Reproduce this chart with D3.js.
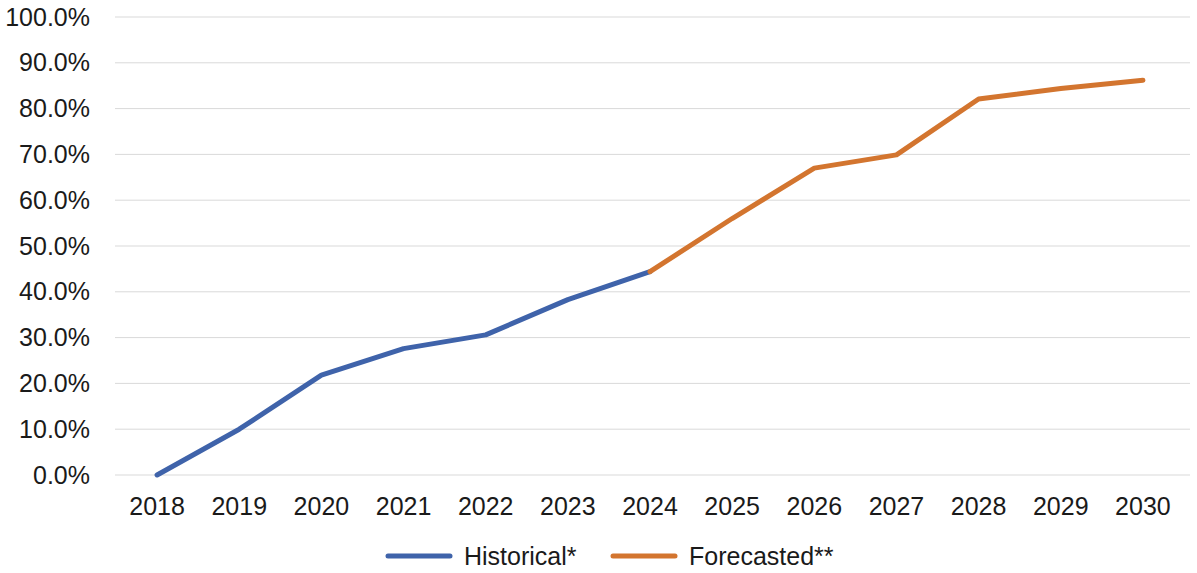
<!DOCTYPE html>
<html>
<head>
<meta charset="utf-8">
<script src="https://cdn.jsdelivr.net/npm/d3@7"></script>
<style>
  body { margin: 0; background: #fff; }
  svg text { font-family: "Liberation Sans", Arial, sans-serif; fill: #1a1a1a; }
</style>
</head>
<body>
<div id="chart"></div>
<script>
// years and values
var years = ["2018","2019","2020","2021","2022","2023","2024","2025","2026","2027","2028","2029","2030"];
var historical = [0.0, 10.0, 21.8, 27.6, 30.6, 38.3, 44.4];
var forecasted = [44.4, 56.0, 67.0, 69.9, 82.1, 84.4, 86.2];
var yTicks = [0, 10, 20, 30, 40, 50, 60, 70, 80, 90, 100];
var seriesNames = ["Historical*", "Forecasted**"];
var seriesColors = ["#3f63aa", "#d3752f"];

var w = 1197, h = 573;
var svg = d3.select("#chart").append("svg")
    .attr("width", w)
    .attr("height", h);

var x = d3.scaleBand().domain(years).range([116, 1184]);
var y = d3.scaleLinear().domain([0, 100]).range([475, 17]);

// gridlines
svg.append("g")
    .selectAll("line")
    .data(yTicks)
    .enter()
    .append("line")
    .attr("x1", 115)
    .attr("x2", 1190)
    .attr("y1", function(d) { return y(d); })
    .attr("y2", function(d) { return y(d); })
    .attr("stroke", "#d9d9d9")
    .attr("stroke-width", 1);

// y axis labels
var yAxis = d3.axisLeft(y).tickValues(yTicks).tickSize(0).tickPadding(0)
    .tickFormat(function(d) { return d3.format(".1f")(d) + "%"; });
svg.append("g")
    .attr("transform", "translate(90,0)")
    .call(yAxis)
    .call(function(g) { g.select(".domain").remove(); })
    .selectAll("text")
    .attr("font-size", 25)
    .style("font-family", "'Liberation Sans', Arial, sans-serif")
    .attr("fill", "#1a1a1a");

// x axis labels
var xAxis = d3.axisBottom(x).tickSize(0).tickPadding(0);
svg.append("g")
    .attr("transform", "translate(0,497)")
    .call(xAxis)
    .call(function(g) { g.select(".domain").remove(); })
    .selectAll("text")
    .attr("font-size", 25)
    .style("font-family", "'Liberation Sans', Arial, sans-serif")
    .attr("fill", "#1a1a1a");

var cx = function(yr) { return x(yr) + x.bandwidth() / 2; };
var line = d3.line()
    .x(function(d) { return cx(d.year); })
    .y(function(d) { return y(d.value); });

var histData = historical.map(function(v, i) { return {year: years[i], value: v}; });
var foreData = forecasted.map(function(v, i) { return {year: years[i + 6], value: v}; });

[histData, foreData].forEach(function(data, i) {
  svg.append("path")
      .datum(data)
      .attr("d", line)
      .attr("fill", "none")
      .attr("stroke", seriesColors[i])
      .attr("stroke-width", 5)
      .attr("stroke-linejoin", "round")
      .attr("stroke-linecap", "round");
});

// legend
var legendX = [388, 613];
var legend = svg.append("g").attr("class", "legend");
seriesNames.forEach(function(name, i) {
  legend.append("line")
      .attr("x1", legendX[i])
      .attr("x2", legendX[i] + 62)
      .attr("y1", 556)
      .attr("y2", 556)
      .attr("stroke", seriesColors[i])
      .attr("stroke-width", 5)
      .attr("stroke-linecap", "round");
  legend.append("text")
      .attr("x", legendX[i] + 76)
      .attr("y", 556)
      .attr("dominant-baseline", "central")
      .attr("font-size", 25)
      .text(name);
});
</script>
</body>
</html>
